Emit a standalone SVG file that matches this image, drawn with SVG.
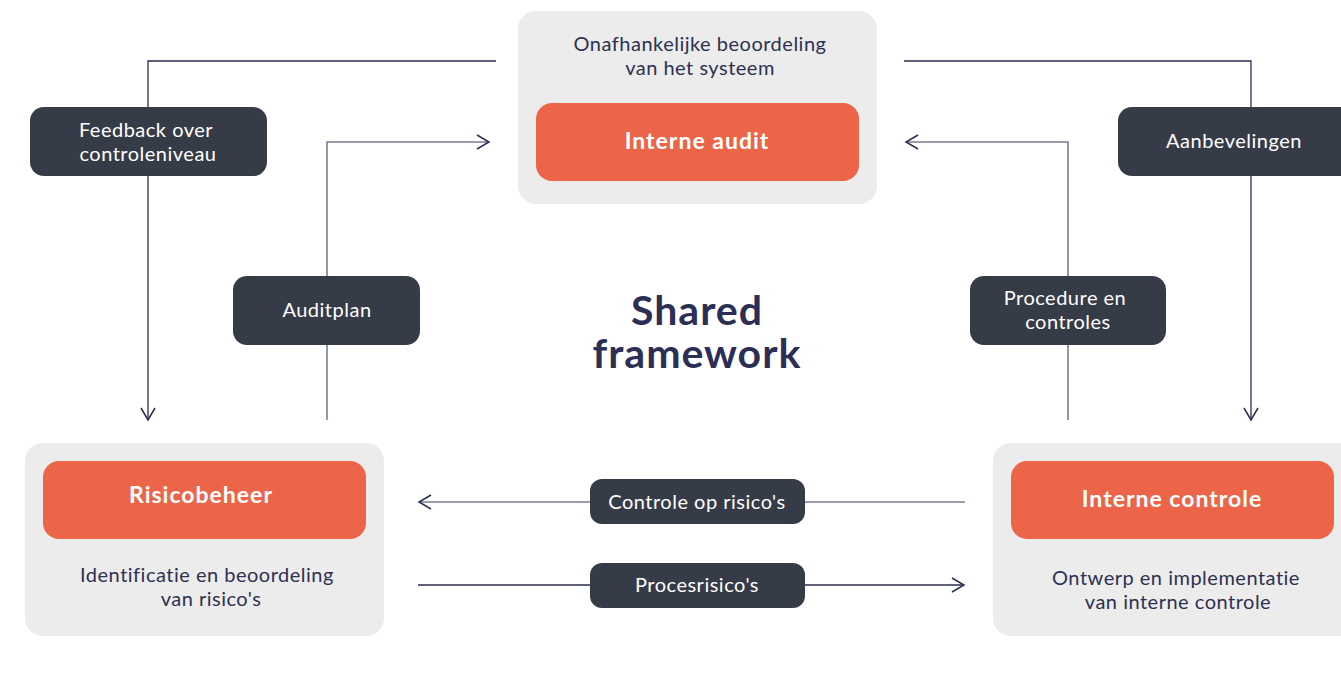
<svg xmlns="http://www.w3.org/2000/svg" width="1341" height="687" viewBox="0 0 1341 687">
<defs>
<style>
.panel{fill:#ececec}
.head{fill:#ec6549}
.lab{fill:#363b48}
.ht{font-family:Lato,"Open Sans",sans-serif;font-weight:700;font-size:23px;letter-spacing:1px;fill:#fff;text-anchor:middle}
.dt{font-family:Lato,"Open Sans",sans-serif;font-size:20px;letter-spacing:0.5px;fill:#2d3152;text-anchor:middle}
.lt{font-family:Lato,"Open Sans",sans-serif;font-size:20px;letter-spacing:0.5px;fill:#fff;text-anchor:middle}
.title{font-family:Lato,"Open Sans",sans-serif;font-weight:700;font-size:41px;letter-spacing:1px;fill:#2b2e55;text-anchor:middle}
.c1{fill:none;stroke:#2b2e4e;stroke-width:1.3}
.c2{fill:none;stroke:#7b7e92;stroke-width:1.6}
.ah{fill:none;stroke:#2b2e4e;stroke-width:1.5}
</style>
</defs>
<rect width="1341" height="687" fill="#fff"/>
<g id="connectors">
<path class="c1" d="M496,61H148V420"/>
<path class="ah" d="M141,408L148,420L155,408"/>
<path class="c2" d="M327,420V142H489"/>
<path class="ah" d="M477,135L489,142L477,149"/>
<path class="c1" d="M904,61H1251V420"/>
<path class="ah" d="M1244,408L1251,420L1258,408"/>
<path class="c2" d="M1068,420V142H906"/>
<path class="ah" d="M918,135L906,142L918,149"/>
<path class="c2" d="M965,502H419"/>
<path class="ah" d="M431,495L419,502L431,509"/>
<path class="c1" d="M418,585H964"/>
<path class="ah" d="M952,578L964,585L952,592"/>
</g>
<g id="interne-audit">
<rect class="panel" x="518" y="11" width="359" height="193" rx="18"/>
<text class="dt" x="700" y="51">Onafhankelijke beoordeling</text>
<text class="dt" x="700" y="75">van het systeem</text>
<rect class="head" x="536" y="103" width="323" height="78" rx="16"/>
<text class="ht" x="697" y="149">Interne audit</text>
</g>
<g id="risicobeheer">
<rect class="panel" x="25" y="443" width="359" height="193" rx="18"/>
<rect class="head" x="43" y="461" width="323" height="78" rx="16"/>
<text class="ht" x="201" y="503">Risicobeheer</text>
<text class="dt" x="207" y="582">Identificatie en beoordeling</text>
<text class="dt" x="211" y="606">van risico's</text>
</g>
<g id="interne-controle">
<rect class="panel" x="993" y="443" width="366" height="193" rx="18"/>
<rect class="head" x="1011" y="461" width="323" height="78" rx="16"/>
<text class="ht" x="1172" y="507">Interne controle</text>
<text class="dt" x="1176" y="585">Ontwerp en implementatie</text>
<text class="dt" x="1178" y="609">van interne controle</text>
</g>
<g id="shared-framework">
<text class="title" x="697" y="325">Shared</text>
<text class="title" x="697" y="368">framework</text>
</g>
<g id="label-feedback">
<rect class="lab" x="30" y="107" width="237" height="69" rx="14"/>
<text class="lt" x="146" y="137">Feedback over</text>
<text class="lt" x="148" y="161">controleniveau</text>
</g>
<g id="label-auditplan">
<rect class="lab" x="233" y="276" width="187" height="69" rx="14"/>
<text class="lt" x="327" y="317">Auditplan</text>
</g>
<g id="label-aanbevelingen">
<rect class="lab" x="1118" y="107" width="240" height="69" rx="14"/>
<text class="lt" x="1234" y="148">Aanbevelingen</text>
</g>
<g id="label-procedure">
<rect class="lab" x="970" y="276" width="196" height="69" rx="14"/>
<text class="lt" x="1065" y="305">Procedure en</text>
<text class="lt" x="1068" y="329">controles</text>
</g>
<g id="label-controle">
<rect class="lab" x="590" y="479" width="215" height="45" rx="12"/>
<text class="lt" x="697" y="509">Controle op risico's</text>
</g>
<g id="label-procesrisicos">
<rect class="lab" x="590" y="563" width="215" height="45" rx="12"/>
<text class="lt" x="697" y="592">Procesrisico's</text>
</g>
</svg>
